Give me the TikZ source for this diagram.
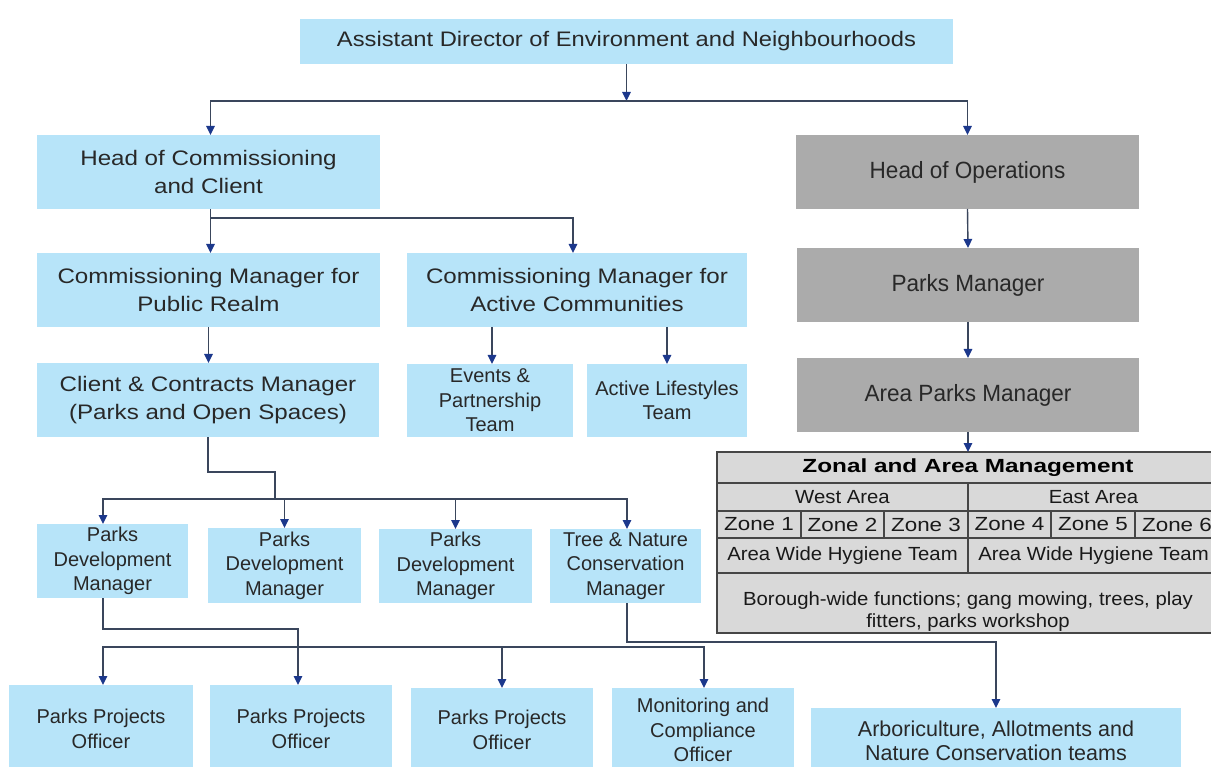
\documentclass[tikz,border=0pt]{standalone}
\usepackage{fontspec}
\setmainfont{Liberation Sans}
\newfontfamily\ftop[FakeStretch=1.13]{Liberation Sans}
\newfontfamily\fbig[FakeStretch=1.15]{Liberation Sans}
\newfontfamily\fgray[FakeStretch=0.96]{Liberation Sans}
\newfontfamily\fsmall{Liberation Sans}
\newfontfamily\ftab[FakeStretch=1.07]{Liberation Sans}
\newfontfamily\fzone[FakeStretch=1.18]{Liberation Sans}
\newfontfamily\ftitle[FakeStretch=1.28]{Liberation Sans}
\usetikzlibrary{arrows.meta}
\definecolor{boxblue}{RGB}{183,228,249}
\definecolor{boxgray}{RGB}{171,171,171}
\definecolor{tabgray}{RGB}{217,217,217}
\definecolor{tabline}{RGB}{70,70,70}
\definecolor{lncol}{RGB}{58,70,92}
\definecolor{tipcol}{RGB}{28,56,140}
\definecolor{txt}{RGB}{40,40,40}
\newcommand\bx[7]{\node[#2, minimum width={#5-#3}, minimum height={#6-#4}] (#1) at ({(#3+#5)/2},{(#4+#6)/2}) {#7};}
\tikzset{
  basebox/.style={draw=none, inner sep=0pt, outer sep=0pt, align=center, text=txt},
  topbox/.style={basebox, fill=boxblue, font=\ftop\fontsize{21}{28}\selectfont},
  bigbox/.style={basebox, fill=boxblue, font=\fbig\fontsize{21}{28}\selectfont},
  smallbox/.style={basebox, fill=boxblue, font=\fsmall\fontsize{20}{24.5}\selectfont},
  arbbox/.style={basebox, fill=boxblue, font=\fsmall\fontsize{21.5}{24.5}\selectfont},
  graybox/.style={basebox, fill=boxgray, font=\fgray\fontsize{23.5}{28}\selectfont},
  tablebox/.style={draw=tabline, line width=1.6pt, fill=tabgray, inner sep=0pt, outer sep=0pt},
  tabtext/.style={inner sep=0pt, text=black!90, font=\ftab\fontsize{19}{22}\selectfont, align=center},
  zonetext/.style={inner sep=0pt, text=black!90, font=\fzone\fontsize{19}{22}\selectfont},
  titletext/.style={inner sep=0pt, text=black, font=\ftitle\bfseries\fontsize{19}{22}\selectfont},
  tabrule/.style={draw=tabline, line width=1.3pt},
  conn/.style={draw=lncol, line width=1.4pt, -{Triangle[length=9pt,width=8.5pt,color=tipcol,fill=tipcol]}},
  plain/.style={draw=lncol, line width=1.4pt}
}
\begin{document}
\begin{tikzpicture}[x=1pt,y=-1pt]
\useasboundingbox (0,0) rectangle (1211,767);
\clip (0,0) rectangle (1211,767);
\fill[white] (0,0) rectangle (1211,767);

% boxes
\bx{ad}{topbox}{300}{19}{953}{64}{Assistant Director of Environment and Neighbourhoods}
\bx{hoc}{bigbox}{37}{135}{380}{209}{Head of Commissioning\\and Client}
\bx{cmpr}{bigbox}{37}{253}{380}{327}{Commissioning Manager for\\Public Realm}
\bx{cmac}{bigbox}{407}{253}{747}{327}{Commissioning Manager for\\Active Communities}
\bx{client}{bigbox}{37}{363}{379}{437}{Client \& Contracts Manager\\(Parks and Open Spaces)}
\bx{evt}{smallbox}{407}{364}{573}{437}{Events \&\\Partnership\\Team}
\bx{als}{smallbox}{587}{364}{747}{437}{Active Lifestyles\\Team}
\bx{hoo}{graybox}{796}{135}{1139}{209}{Head of Operations}
\bx{pm}{graybox}{797}{248}{1139}{322}{Parks Manager}
\bx{apm}{graybox}{797}{358}{1139}{432}{Area Parks Manager}
\bx{pdma}{smallbox}{37}{524}{188}{598}{Parks\\Development\\Manager}
\bx{pdmb}{smallbox}{208}{528}{361}{603}{Parks\\Development\\Manager}
\bx{pdmc}{smallbox}{379}{529}{532}{603}{Parks\\Development\\Manager}
\bx{tnc}{smallbox}{550}{529}{701}{603}{Tree \& Nature\\Conservation\\Manager}
\bx{ppoa}{smallbox}{9}{685}{193}{773}{Parks Projects\\Officer}
\bx{ppob}{smallbox}{210}{685}{392}{773}{Parks Projects\\Officer}
\bx{ppoc}{smallbox}{411}{688}{593}{772}{Parks Projects\\Officer}
\bx{mco}{smallbox}{612}{688}{794}{772}{Monitoring and\\Compliance\\Officer}
\bx{arb}{arbbox}{811}{708}{1181}{774}{Arboriculture, Allotments and\\Nature Conservation teams}

% table
\bx{tbl}{tablebox}{717}{452}{1219}{633}{}
\draw[tabrule] (717,483) -- (1219,483);
\draw[tabrule] (717,511) -- (1219,511);
\draw[tabrule] (717,538) -- (1219,538);
\draw[tabrule] (717,573) -- (1219,573);
\draw[tabrule] (968,483) -- (968,573);
\foreach \xx in {801,884,1051,1135} \draw[tabrule] (\xx,511) -- (\xx,538);
\node[titletext] (ttl) at (968,467.5) {Zonal and Area Management};
\node[tabtext] (west) at (842.5,497) {West Area};
\node[tabtext] (east) at (1093.5,497) {East Area};
\node[zonetext] (z1) at (759,524.5) {Zone 1};
\node[zonetext] (z2) at (842.5,524.5) {Zone 2};
\node[zonetext] (z3) at (926,524.5) {Zone 3};
\node[zonetext] (z4) at (1009.5,524.5) {Zone 4};
\node[zonetext] (z5) at (1093,524.5) {Zone 5};
\node[zonetext] (z6) at (1177,524.5) {Zone 6};
\node[tabtext] (hyw) at (842.5,555.5) {Area Wide Hygiene Team};
\node[tabtext] (hye) at (1093.5,555.5) {Area Wide Hygiene Team};
\node[tabtext] (bor) at (968,612) {Borough-wide functions; gang mowing, trees, play\\fitters, parks workshop};

% connectors
\coordinate (j0) at (626.5,101);
\draw[conn] (ad.south) -- (j0);
\draw[conn] (j0) -| ([xshift=2pt]hoc.north);
\draw[conn] (j0) -| (hoo.north);

\coordinate (j1) at (210.5,218);
\draw[conn] ([xshift=2pt]hoc.south) -- ([xshift=2pt]hoc.south |- cmpr.north);
\draw[conn] (j1) -| ([xshift=-4pt]cmac.north);
\draw[conn] (cmpr.south) -- (cmpr.south |- client.north);
\draw[conn] ([xshift=2pt]evt.north |- cmac.south) -- ([xshift=2pt]evt.north);
\draw[conn] (als.north |- cmac.south) -- (als.north);

\draw[conn] (hoo.south) -- (pm.north);
\draw[conn] (pm.south) -- (apm.north);
\draw[conn] (apm.south) -- (tbl.north);

\coordinate (j2) at (275,499);
\draw[plain] (client.south) -- ++(0,35) -| (j2);
\draw[conn] (j2) -| ([xshift=-9.5pt]pdma.north);
\draw[conn] (j2) -| (pdmb.north);
\draw[conn] (j2) -| (pdmc.north);
\draw[conn] (j2) -| ([xshift=1.5pt]tnc.north);

\draw[conn] ([xshift=-9.5pt]pdma.south) -- ++(0,31) -| ([xshift=-3pt]ppob.north);
\coordinate (j3) at (298,647);
\draw[conn] (j3) -| ([xshift=2pt]ppoa.north);
\draw[conn] (j3) -| (ppoc.north);
\draw[conn] (j3) -| ([xshift=1pt]mco.north);

\draw[conn] ([xshift=1.5pt]tnc.south) -- ++(0,39) -| (arb.north);
\end{tikzpicture}
\end{document}
